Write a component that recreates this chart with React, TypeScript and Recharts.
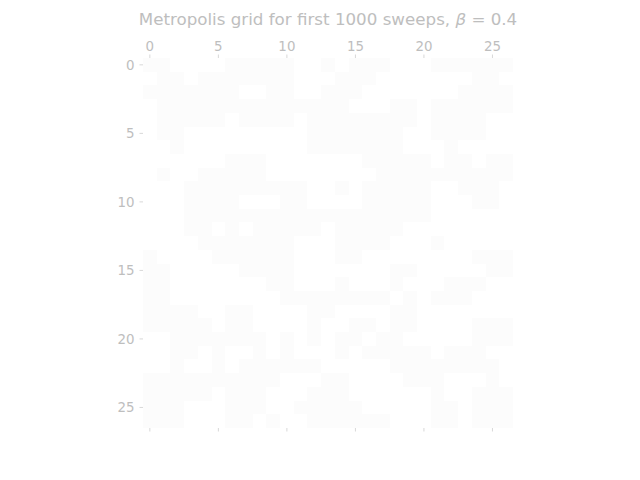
import { ScatterChart, Scatter, XAxis, YAxis } from "recharts";

// spin grid: "1" = pale grey cell, "0" = white cell
const spinRows = [
  "110000111110010111000111111",
  "011011111110001110000000110",
  "111111100110011100000001111",
  "011111111111111000110111111",
  "011111011110111111110111100",
  "011000000000111111100111100",
  "001000000000111111100010000",
  "000000111000000011111011011",
  "010011111000000001111111111",
  "000111111111001011111001110",
  "000111100011000011111000110",
  "000111111111111111111000000",
  "000110101111101111100000000",
  "000011111110001111000100000",
  "100001111110001100000000111",
  "110000011110000000110000011",
  "110000000110001000100011100",
  "110000000011111111010111000",
  "111100110000110000110000000",
  "111110110000100110110000111",
  "001111111010101101100000111",
  "001101001010001011111011100",
  "001001011111100000111111110",
  "111111111100011000011100010",
  "111110111000111000000100111",
  "111000111001111100000110111",
  "111000110100111111000110111",
];

const xTicks = [0, 5, 10, 15, 20, 25];
const yTicks = [0, 5, 10, 15, 20, 25];

const N = spinRows.length;
const PLOT = 370;
const CELL = PLOT / N;
const TEXT = "#bebebe";
const TICK_LINE = "#d8d8d8";
const FONT = "'DejaVu Sans', sans-serif";

const cells = spinRows.flatMap((row, r) =>
  row.split("").map((ch, c) => ({ x: c, y: r, v: Number(ch) }))
);

function CellShape(props: any) {
  const { cx, cy, payload } = props;
  if (cx == null || cy == null) return null;
  return (
    <rect
      x={cx - CELL / 2}
      y={cy - CELL / 2}
      width={CELL + 0.5}
      height={CELL + 0.5}
      fill={payload.v ? "#fcfcfc" : "#ffffff"}
      shapeRendering="crispEdges"
    />
  );
}

export default function App() {
  return (
    <div
      style={{
        position: "absolute",
        left: 0,
        top: 0,
        width: 640,
        height: 480,
        background: "#ffffff",
      }}
    >
      <div
        style={{
          position: "absolute",
          left: 78,
          top: 10,
          width: 500,
          textAlign: "center",
          fontFamily: FONT,
          fontSize: 16.7,
          lineHeight: "18px",
          color: TEXT,
          whiteSpace: "nowrap",
        }}
      >
        Metropolis grid for first 1000 sweeps, <i>β</i> = 0.4
      </div>
      <ScatterChart
        width={640}
        height={480}
        margin={{ top: 38, right: 127, bottom: 42, left: 103 }}
      >
        <XAxis
          xAxisId="top"
          orientation="top"
          type="number"
          dataKey="x"
          domain={[-0.5, N - 0.5]}
          ticks={xTicks}
          allowDataOverflow
          height={20}
          axisLine={false}
          tickSize={3.5}
          tickMargin={4}
          tickLine={{ stroke: TICK_LINE }}
          tick={{ fill: TEXT, fontSize: 13.4, fontFamily: FONT }}
        />
        <XAxis
          xAxisId="bottom"
          orientation="bottom"
          type="number"
          dataKey="x"
          domain={[-0.5, N - 0.5]}
          ticks={xTicks}
          allowDataOverflow
          height={10}
          axisLine={false}
          tickSize={3.5}
          tickLine={{ stroke: TICK_LINE }}
          tick={() => <g />}
        />
        <YAxis
          type="number"
          dataKey="y"
          domain={[-0.5, N - 0.5]}
          ticks={yTicks}
          reversed
          allowDataOverflow
          width={40}
          axisLine={false}
          tickSize={3.5}
          tickMargin={5}
          tickLine={{ stroke: TICK_LINE }}
          tick={{ fill: TEXT, fontSize: 13.4, fontFamily: FONT }}
        />
        <Scatter
          xAxisId="top"
          data={cells}
          shape={CellShape}
          isAnimationActive={false}
        />
      </ScatterChart>
    </div>
  );
}
